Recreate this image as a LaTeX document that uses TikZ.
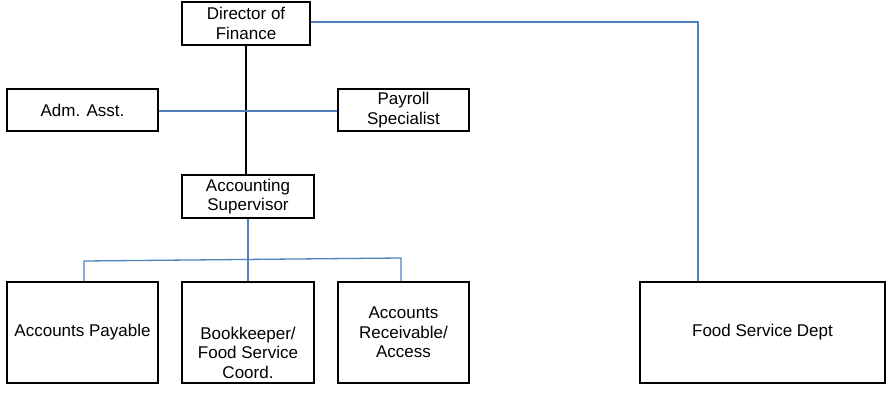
\documentclass[tikz,border=0pt]{standalone}
\usepackage{fontspec}
\setmainfont{Liberation Sans}
\definecolor{lineblue}{RGB}{79,129,189}
\begin{document}
\begin{tikzpicture}[x=1pt,y=-1pt,
  box/.style={draw=black,line width=2pt,fill=white,inner sep=0pt,align=center,
    font=\fontsize{17}{19.5}\selectfont},
  blueline/.style={draw=lineblue,line width=1.3pt},
  blackline/.style={draw=black,line width=1.3pt}]
\useasboundingbox (0,0) rectangle (888,393);
\node[box,minimum width=128pt,minimum height=43pt] (dir) at (246,23.5) {Director of\\Finance};
\node[box,minimum width=151pt,minimum height=42pt] (adm) at (82.5,110) {Adm. Asst.};
\node[box,minimum width=131pt,minimum height=42pt] (pay) at (403.5,110) {Payroll\\Specialist};
\node[box,minimum width=132pt,minimum height=43pt] (sup) at (248,196.5) {Accounting\\Supervisor};
\node[box,minimum width=151pt,minimum height=101pt] (ap) at (82.5,332.5) {Accounts Payable};
\node[box,minimum width=132pt,minimum height=101pt,
  label={[font=\fontsize{17}{19.5}\selectfont,align=center,yshift=-20pt]center:Bookkeeper/\\Food Service\\Coord.}] (bk) at (248,332.5) {};
\node[box,minimum width=131pt,minimum height=101pt] (ar) at (403.5,332.5) {Accounts\\Receivable/\\Access};
\node[box,minimum width=245pt,minimum height=101pt] (fs) at (762.5,332.5) {Food Service Dept};
\coordinate (hl) at (84,261);
\coordinate (hr) at (401,258);
\coordinate (tr) at (698,22);
\draw[blackline] (dir.south -| 246,0) -- (sup.north -| 246,0);
\draw[blueline] (dir.east |- 0,22) -- (tr) -- (tr |- fs.north);
\draw[blueline] (adm.east |- 0,111) -- (pay.west |- 0,111);
\draw[blueline] (sup.south) -- (bk.north);
\draw[blueline] (ap.north -| hl) -- (hl) -- (hr) -- (ar.north -| hr);
\end{tikzpicture}
\end{document}
